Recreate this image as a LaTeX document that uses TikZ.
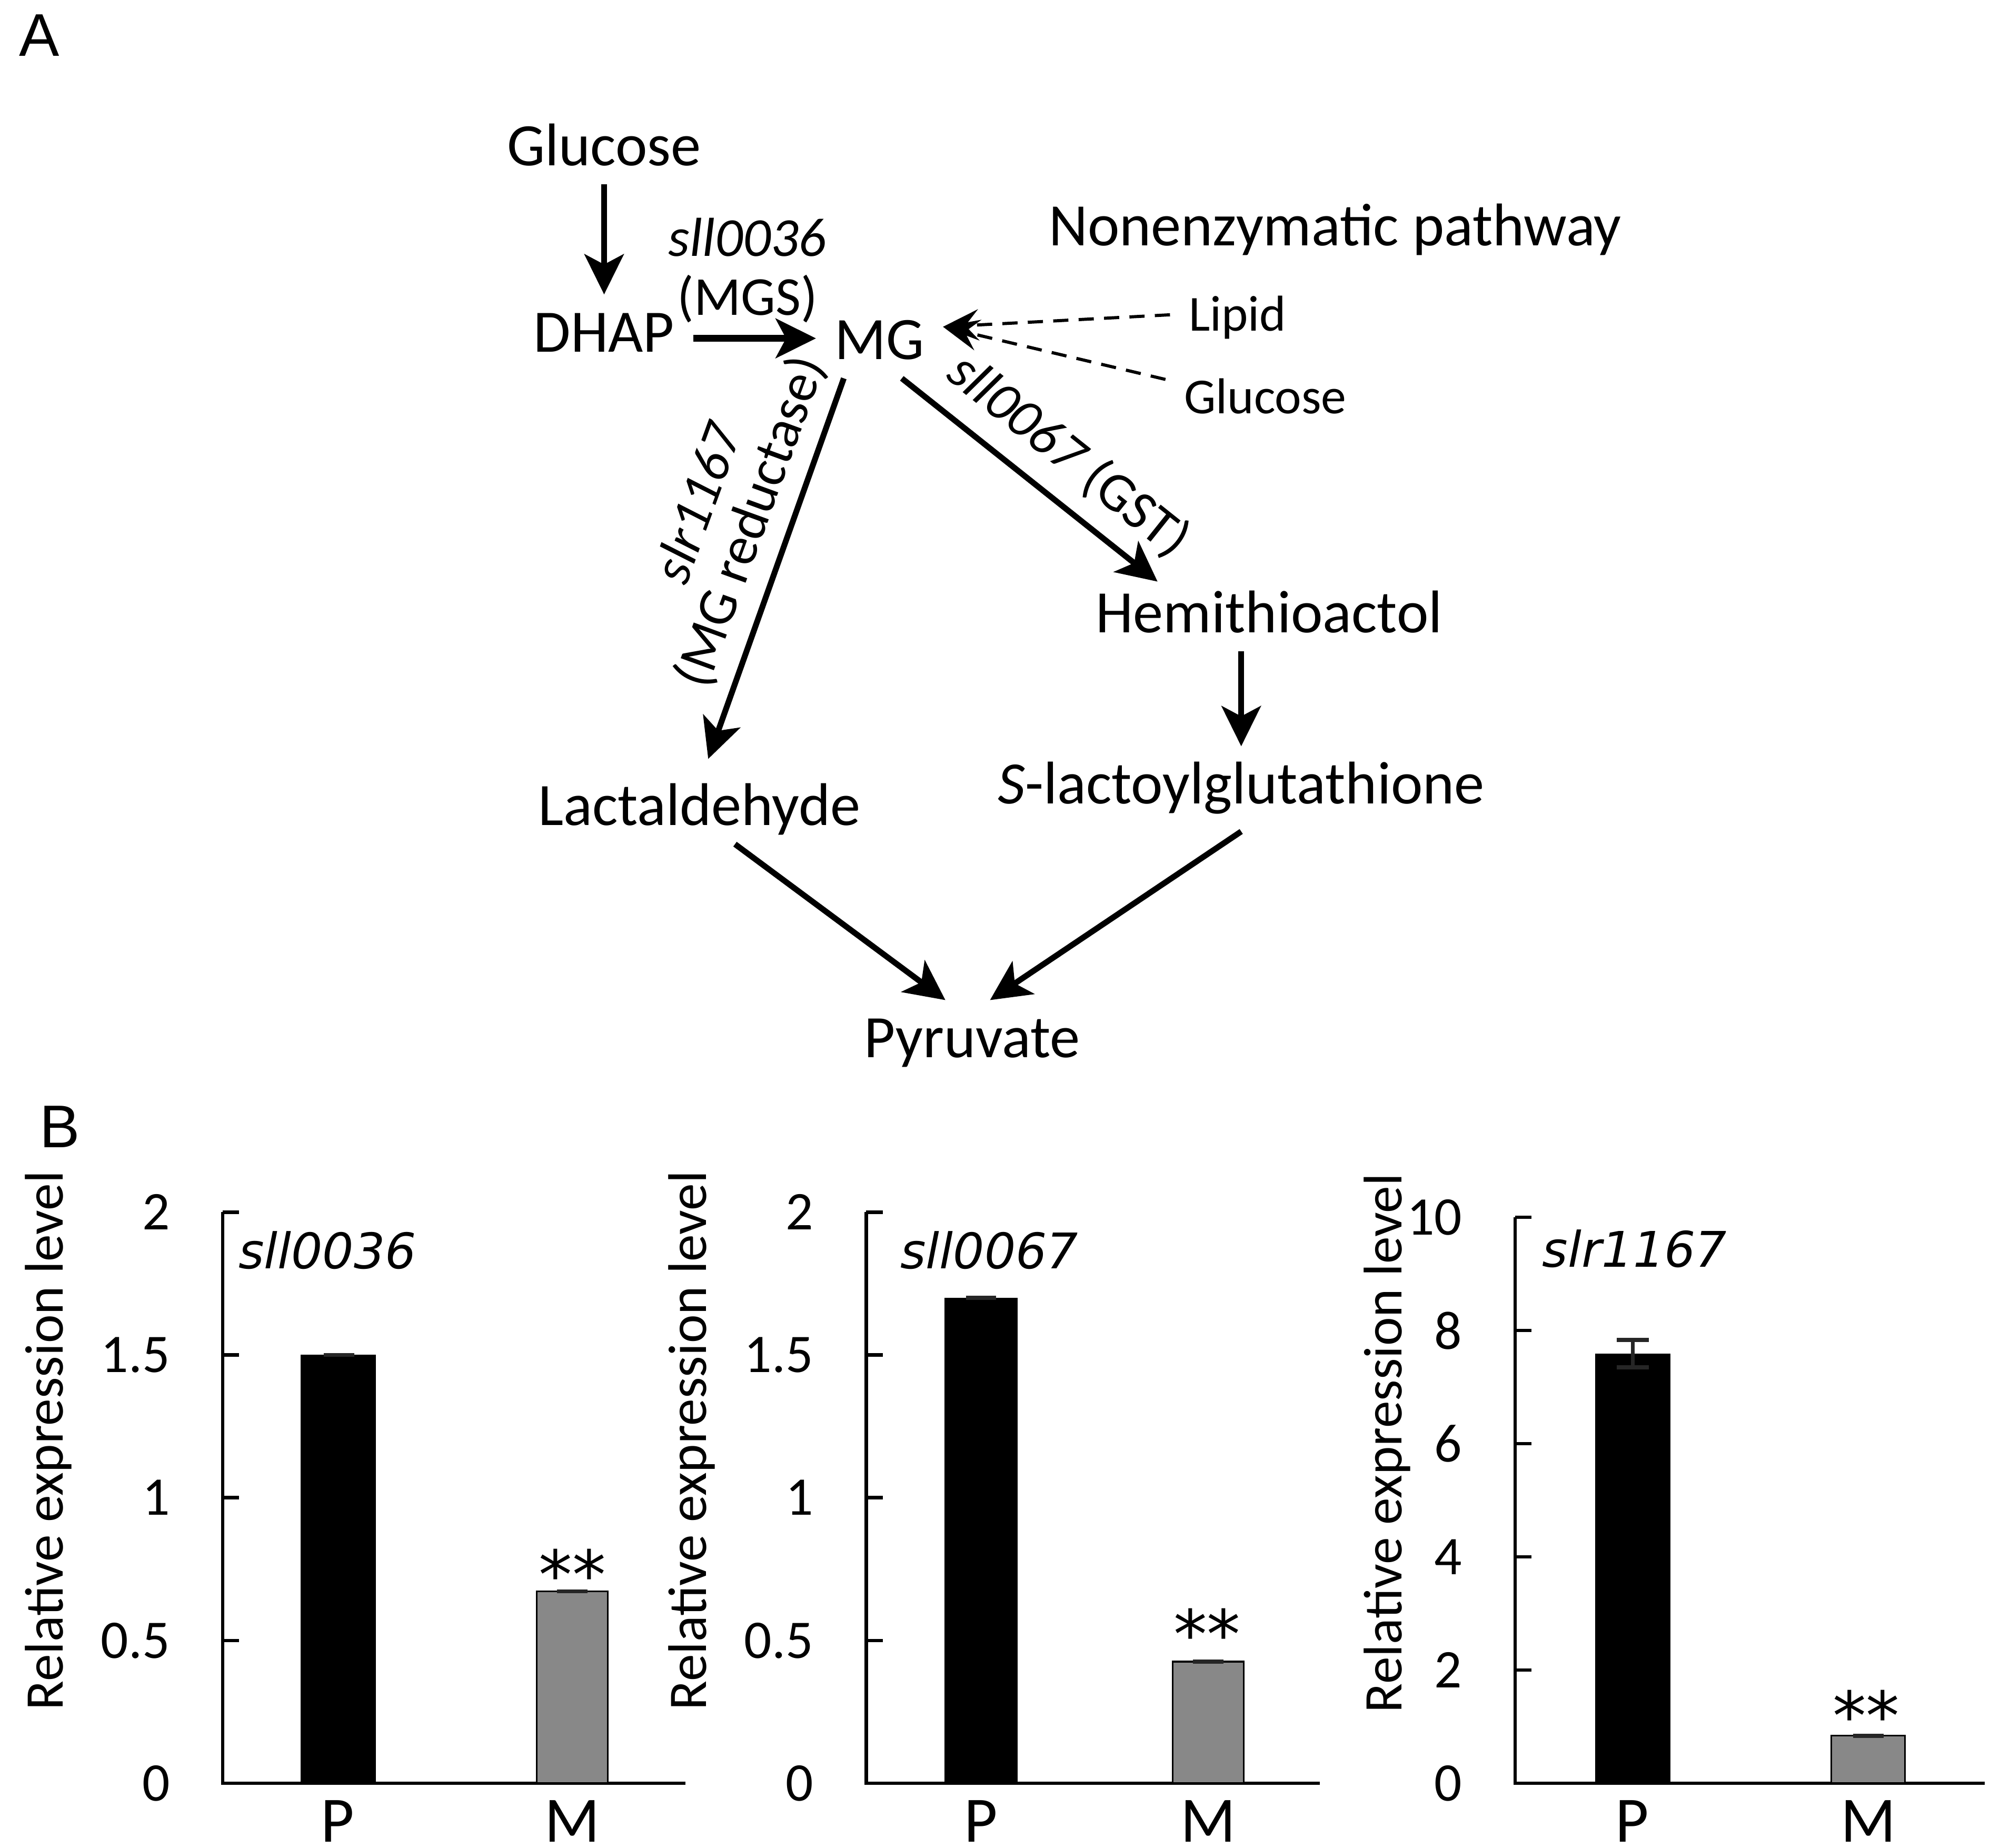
\documentclass[tikz,border=0pt]{standalone}
\usepackage{fontspec}
\setmainfont{Carlito}
\newfontfamily\dejavu{DejaVu Sans}
\newfontfamily\panelfont{Liberation Sans}
\usetikzlibrary{arrows.meta}
\definecolor{mutgray}{RGB}{136,136,136}
\tikzset{
	met/.style={inner sep=4pt, text height=8.7pt, text depth=0pt, font=\fontsize{13.5}{16}\selectfont},
	src/.style={inner sep=4pt, text height=7.3pt, text depth=0pt, font=\fontsize{11.3}{13}\selectfont},
	enz/.style={inner sep=0pt, font=\fontsize{12.3}{12.3}\selectfont},
	rxn/.style={line width=1.3pt, -{Stealth[length=9pt,width=8.8pt,inset=2.3pt]}},
	nonenz/.style={line width=0.7pt, dash pattern=on 3.4pt off 2.3pt, -{Stealth[length=8pt,width=7pt,inset=3pt]}},
	axisline/.style={line width=0.8pt},
	ticklab/.style={font=\fontsize{12.2}{14}\selectfont, anchor=east, inner sep=0pt, text depth=0pt},
	ylab/.style={font=\fontsize{12.2}{14}\selectfont, rotate=90, inner sep=0pt},
	gene/.style={font=\dejavu\itshape\fontsize{11}{13}\selectfont, inner sep=0pt},
	grp/.style={font=\fontsize{14.5}{17}\selectfont, inner sep=0pt, text height=9.3pt, text depth=0pt},
	sig/.style={font=\dejavu\fontsize{15}{16}\selectfont, inner sep=0pt},
	errbar/.style={line width=0.9pt, black!85},
	letter/.style={font=\panelfont\fontsize{13.5}{16}\selectfont, inner sep=0pt, text height=9.7pt, text depth=0pt}
}
% axis of one bar chart: x of axis, end of x-axis, px per unit, ticks, top value
\newcommand{\expaxis}[5]{
	\draw[axisline](#1,{1405-#5*#3})|-(#2,1405);
	\foreach \t in {#4}{
		\draw[axisline](#1,{1405-\t*#3})--++(13,0);
		\node[ticklab] at ({#1-41},{1405-\t*#3}){\t};
	}
}
\begin{document}
\begin{tikzpicture}[x=0.01cm,y=-0.01cm]
	\fill[white](0,0)rectangle(1568,1456);
	\useasboundingbox(0,0)rectangle(1568,1456);
	% A: pathway
	\node[letter] (la) at (31,27){A};
	\node[met] (glc) at (476,115){Glucose};
	\node[met] (dhap) at (476,262){DHAP};
	\node[met] (mg) at (693,268){MG};
	\node[met] (non) at (1052,178){Nonenzymatic pathway};
	\node[src] (lip) at (975,248){Lipid};
	\node[src] (glc2) at (997,313){Glucose};
	\node[met] (hemi) at (1000,483){Hemithioactol};
	\node[met] (slac) at (978,618){\textit{S}-lactoylglutathione};
	\node[met] (lact) at (551,635){Lactaldehyde};
	\node[met] (pyr) at (766,818){Pyruvate};
	\draw[rxn](glc)--(dhap);
	\draw[rxn, line width=1.6pt]([yshift=-1.3pt]dhap.east)--([yshift=-1.3pt]dhap.east -| mg.west);
	\node[enz, align=center, font=\fontsize{12.3}{13.2}\selectfont] (mgs) at (589,213){\textit{sll0036}\\(MGS)};
	\draw[nonenz](lip.west)--([yshift=3pt]mg.east);
	\draw[nonenz]([yshift=4pt]glc2.west)--([yshift=3pt]mg.east);
	\draw[rxn]([xshift=-8pt]mg.south)--([xshift=2pt,yshift=2pt]lact.north);
	\node[enz, align=center, rotate=70] (red) at (572,404){\textit{slr1167}\\(MG reductase)};
	\draw[rxn]([xshift=5pt]mg.south)--([xshift=-25pt,yshift=-1.5pt]hemi.north);
	\node[enz, rotate=-38.6] (gst) at (842,359){\textit{sll0067} (GST)};
	\draw[rxn](slac.north |- hemi.south)--(slac.north);
	\draw[rxn]([xshift=8pt]lact.south)--([xshift=-6pt]pyr.north);
	\draw[rxn]([yshift=-2pt]slac.south)--([xshift=4pt]pyr.north);
	% B: expression
	\node[letter] (lb) at (47,887){B};
	\expaxis{175.5}{540}{225}{0,0.5,1,1.5,2}{2}
	\fill(237,1405)rectangle(296,{1405-1.5*225});
	\filldraw[fill=mutgray, line width=0.4pt](423,1405)rectangle(479,{1405-0.672*225});
	\draw[errbar](255,{1405-1.5*225})--(279,{1405-1.5*225});
	\draw[errbar](439,{1405-0.672*225})--(463,{1405-0.672*225});
	\node[ylab] at (38,1135){Relative expression level};
	\node[gene] at (258,985){sll0036};
	\node[sig] at (451,1240){**};
	\node[grp] at (266,1435){P};
	\node[grp] at (451,1435){M};
	\expaxis{682.5}{1040}{225}{0,0.5,1,1.5,2}{2}
	\fill(744,1405)rectangle(802,{1405-1.70*225});
	\filldraw[fill=mutgray, line width=0.4pt](924,1405)rectangle(980,{1405-0.426*225});
	\draw[errbar](761,{1405-1.70*225})--(785,{1405-1.70*225});
	\draw[errbar](940,{1405-0.426*225})--(964,{1405-0.426*225});
	\node[ylab] at (545,1135){Relative expression level};
	\node[gene] at (779.5,985){sll0067};
	\node[sig] at (951,1287){**};
	\node[grp] at (773,1435){P};
	\node[grp] at (952,1435){M};
	\expaxis{1193.8}{1564}{44.6}{0,2,4,6,8,10}{10}
	\fill(1257,1405)rectangle(1316,{1405-7.59*44.6});
	\filldraw[fill=mutgray, line width=0.4pt](1443,1405)rectangle(1501,{1405-0.84*44.6});
	\draw[errbar](1286.5,{1405-7.83*44.6})--(1286.5,{1405-7.35*44.6});
	\draw[errbar](1274,{1405-7.83*44.6})--(1299,{1405-7.83*44.6});
	\draw[errbar](1274,{1405-7.35*44.6})--(1299,{1405-7.35*44.6});
	\draw[errbar](1460,{1405-0.84*44.6})--(1484,{1405-0.84*44.6});
	\node[ylab] at (1093,1137){Relative expression level};
	\node[gene] at (1288,984){slr1167};
	\node[sig] at (1470.5,1351){**};
	\node[grp] at (1286,1435){P};
	\node[grp] at (1472,1435){M};
\end{tikzpicture}
\end{document}
